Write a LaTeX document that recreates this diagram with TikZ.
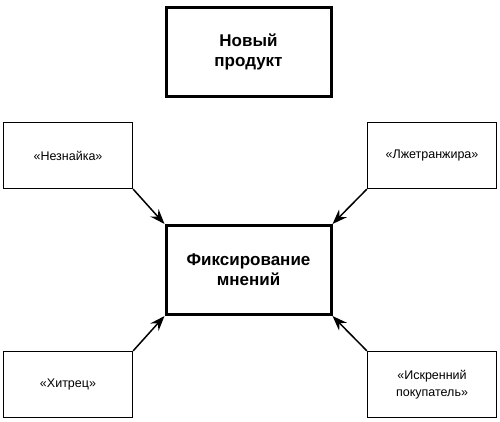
\documentclass[tikz,border=0pt]{standalone}
\usepackage{fontspec}
\setmainfont{Liberation Sans}
\usetikzlibrary{arrows.meta}
\tikzset{
  mainbox/.style={draw=black,line width=3pt,minimum width=165pt,minimum height=89pt,
    align=center,font=\fontsize{17}{20}\selectfont\bfseries,inner sep=0pt},
  sidebox/.style={draw=black,line width=1.4pt,minimum width=129pt,minimum height=66pt,
    align=center,font=\fontsize{12.5}{17}\selectfont,inner sep=0pt},
  opinion/.style={line width=1.5pt,-{Stealth[length=15pt,width=11pt,inset=5pt]}}
}
\begin{document}
\begin{tikzpicture}[x=1pt,y=-1pt]
\useasboundingbox (0,0) rectangle (500,422);
% main boxes
\node[mainbox] (prod) at (248.5,52){Новый\\продукт};
\node[mainbox] (fix) at (248.5,270){Фиксирование\\мнений};
% customers
\node[sidebox] (nez) at (68,155.5){«Незнайка»};
\node[sidebox] (lzh) at (432,155.5){«Лжетранжира»};
\node[sidebox] (hit) at (68,384.5){«Хитрец»};
\node[sidebox] (isk) at (432,384.5){«Искренний\\покупатель»};
% arrows
\draw[opinion](nez.south east)--(fix.north west);
\draw[opinion](lzh.south west)--(fix.north east);
\draw[opinion](hit.north east)--(fix.south west);
\draw[opinion](isk.north west)--(fix.south east);
\end{tikzpicture}
\end{document}
